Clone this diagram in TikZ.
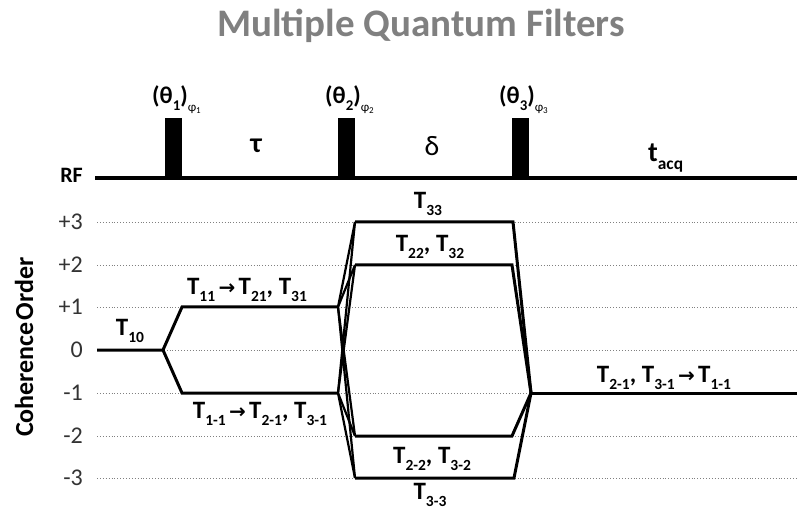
\documentclass[tikz,border=0pt]{standalone}
\usepackage{fontspec}
\setmainfont{Carlito}
\newfontfamily\symfont{DejaVu Sans}
\newcommand{\sbs}[1]{\raisebox{-0.28em}{\fontsize{0.62em}{0.7em}\selectfont #1}}
\newcommand{\arr}{{\symfont\fontsize{0.8em}{1em}\selectfont\,→\,}}
\begin{document}
\begin{tikzpicture}[x=1pt,y=-1pt,
  path/.style={line width=3pt,line join=miter},
  fan/.style={line width=2.2pt},
  level/.style={draw=gray,line width=0.9pt,dotted},
  lbl/.style={font=\bfseries\fontsize{25}{27}\selectfont,inner sep=0pt},
  plbl/.style={font=\bfseries\fontsize{24}{26}\selectfont,inner sep=0pt,anchor=base west},
  lev/.style={font=\fontsize{24}{26}\selectfont,text=black!80,anchor=east,inner sep=0pt},
  pulse/.style={fill=black,draw=none}]
\useasboundingbox (0,0) rectangle (797,510);
% title
\node[font=\bfseries\fontsize{39}{42}\selectfont,text=black!50,anchor=base] (title) at (421,37) {Multiple Quantum Filters};
% RF line and pulses
\coordinate (rfa) at (95,178);
\coordinate (rfb) at (797,178);
\draw[line width=3.2pt] (rfa) -- (rfb);
\node[font=\bfseries\fontsize{22}{24}\selectfont,anchor=east,inner sep=0pt] (rf) at (83,175) {RF};
\fill[pulse] (165,118) rectangle (182,178);
\fill[pulse] (338,118) rectangle (355,178);
\fill[pulse] (512,118) rectangle (529,178);
\node[plbl] (th1) at (152,104) {(θ\sbs{1})\raisebox{-0.3em}{\mdseries\fontsize{13}{13}\selectfont φ\raisebox{-0.15em}{\fontsize{9}{9}\selectfont 1}}};
\node[plbl] (th2) at (325,104) {(θ\sbs{2})\raisebox{-0.3em}{\mdseries\fontsize{13}{13}\selectfont φ\raisebox{-0.15em}{\fontsize{9}{9}\selectfont 2}}};
\node[plbl] (th3) at (499,104) {(θ\sbs{3})\raisebox{-0.3em}{\mdseries\fontsize{13}{13}\selectfont φ\raisebox{-0.15em}{\fontsize{9}{9}\selectfont 3}}};
\node[inner sep=0pt,font=\bfseries\fontsize{28}{28}\selectfont] (tau) at (256,146) {τ};
\node[inner sep=0pt,font=\fontsize{28}{28}\selectfont] (delta) at (432,146) {δ};
\node[inner sep=0pt,font=\bfseries\fontsize{28}{30}\selectfont,anchor=base west] (tacq) at (648,162) {t\sbs{acq}};
% levels
\foreach \n/\yy/\t in {p3/222/+3,p2/265/+2,p1/307/+1,z/350/0,m1/393/-1,m2/436/-2,m3/478/-3}{
  \coordinate (L\n a) at (97,\yy);
  \coordinate (L\n b) at (797,\yy);
  \draw[level] (L\n a) -- (L\n b);
  \node[lev] (N\n) at (83,\yy) {\t};
}
\node[rotate=90,font=\bfseries\fontsize{26}{28}\selectfont,inner sep=0pt] (co) at (24,347) {Coherence\hspace{0.08em}Order};
% coherence pathways
\coordinate (a0) at (97,350);
\coordinate (b0) at (163,350);
\coordinate (p1s) at (182,307);
\coordinate (m1s) at (182,393);
\coordinate (p1e) at (338,307);
\coordinate (m1e) at (338,393);
\coordinate (p3s) at (355,222);
\coordinate (p2s) at (355,265);
\coordinate (m2s) at (355,436);
\coordinate (m3s) at (355,478);
\coordinate (p3e) at (513,222);
\coordinate (p2e) at (512,265);
\coordinate (m2e) at (512,436);
\coordinate (m3e) at (514,478);
\coordinate (cv) at (531,393);
\coordinate (fin) at (797,393);
\draw[path] (a0) -- (b0) -- (p1s) -- (p1e);
\draw[path] (b0) -- (m1s) -- (m1e);
\foreach \s in {p1e,m1e}{
  \foreach \t in {p3s,p2s,m2s,m3s}{
    \draw[fan] (\s) -- (\t);
  }
}
\draw[path] (p3s) -- (p3e) -- (cv);
\draw[path] (p2s) -- (p2e) -- (cv);
\draw[path] (m2s) -- (m2e) -- (cv);
\draw[path] (m3s) -- (m3e) -- (cv);
\draw[path] (cv) -- (fin);
% labels
\node[lbl] (t10) at (130,331) {T\sbs{10}};
\node[lbl] (t11) at (247,290) {T\sbs{11}\arr T\sbs{21}, T\sbs{31}};
\node[lbl] (t1m) at (260,414) {T\sbs{1-1}\arr T\sbs{2-1}, T\sbs{3-1}};
\node[lbl] (t33) at (428,204) {T\sbs{33}};
\node[lbl] (t22) at (430,247) {T\sbs{22}, T\sbs{32}};
\node[lbl] (t2m) at (432,459) {T\sbs{2-2}, T\sbs{3-2}};
\node[lbl] (t3m) at (430,495) {T\sbs{3-3}};
\node[lbl] (tfin) at (664,378) {T\sbs{2-1}, T\sbs{3-1}\arr T\sbs{1-1}};
\end{tikzpicture}
\end{document}
